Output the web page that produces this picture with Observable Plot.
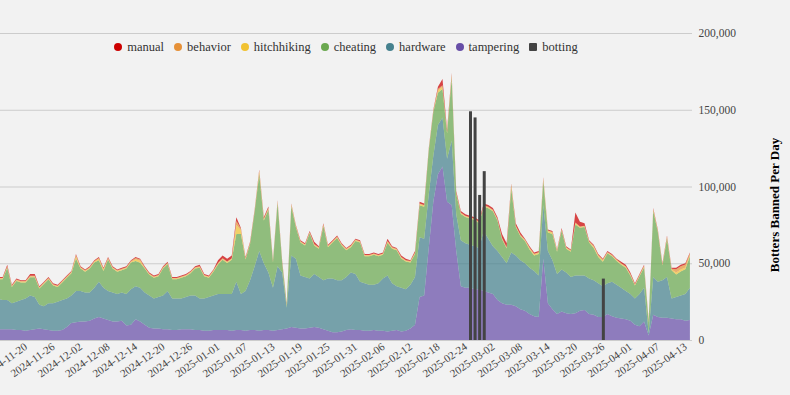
<!DOCTYPE html>
<html><head><meta charset="utf-8">
<script src="https://cdn.jsdelivr.net/npm/d3@7"></script>
<script src="https://cdn.jsdelivr.net/npm/@observablehq/plot@0.6"></script>
<style>
html,body{margin:0;padding:0;background:#f2f2f2;}
#wrap{position:relative;width:790px;height:395px;font-family:"Liberation Serif","Times New Roman",Times,"DejaVu Serif",serif;overflow:hidden;}
#wrap svg, #wrap svg text{font-family:"Liberation Serif","Times New Roman",Times,"DejaVu Serif",serif !important;}
#legend{position:absolute;left:0;top:40px;width:692px;text-align:center;font-size:12.5px;color:#333;white-space:nowrap;}
.item{display:inline-block;margin:0 5px;}
.sw{display:inline-block;width:8px;height:8px;border-radius:50%;margin-right:5px;vertical-align:0px;}
.sq{border-radius:1px;}
</style></head><body><div id="wrap"><div id="legend"></div></div>
<script>
// daily values in thousands, first day below
const startDate = "2024-11-14";
const seriesNames = ["tampering","hardware","cheating","hitchhiking","behavior","manual"];
const seriesColors = ["#674ea7","#45818e","#6aa84f","#f1c232","#e69138","#cc0000"];
const legendOrder = ["manual","behavior","hitchhiking","cheating","hardware","tampering"];

const tampering = [7,7,7,7,6.5,6.5,6,6.5,7,7.5,
7,6.5,6,6,6.5,8.5,11,11.5,12,12,
12.5,14,15,14,13,12,12,12.5,9.5,10,
13.5,12,10,8,7.5,7.5,7,7,6.5,6.5,
7,7,7,6.5,6.5,6,6,6.5,6.5,6.5,
6.5,6,6.5,6.5,6,6.5,6.5,6,6.5,6.5,
6,6.5,7,7.5,8.5,8,7.5,7.5,8,8.5,
8,7,6,5,5,5.5,6.5,7,6.5,6.5,
6,6,6.5,6,6,5.5,6,6.5,5.5,6,
7.5,10,28,29,60,90,108,113,90,88,
58,35,34,34,33,33,32,31,30,26,
24,23,23,22,20,19,17,15.5,15,53,
24,20,17,18.5,17.5,17,17.5,19,19.5,17,
16.5,15,15,17,15.5,14.5,14,13.5,12.5,10,
9,12,3,16.5,15,14.5,14.5,14,13.5,13.5,
12.5,13];
const hardware = [20,19,19,17,18.5,19.5,21,22.5,21,15.5,
15,17.5,18,19,19.5,18.5,18,20.5,20,19,
18.5,20,23,20,19,19,18,18.5,20.5,23,
21.5,22,21,21,19.5,20.5,22,25,20.5,20.5,
20,21,22,22.5,20.5,21,22,22.5,23.5,23.5,
23.5,24,31.5,23.5,26,32.5,41.5,52,43.5,37.5,
28,41.5,37,13.5,46.5,45,34.5,33.5,32,34.5,
33,32,34,35,34,33.5,34.5,37,36.5,31.5,
31,30,29.5,31,34,36.5,31,28.5,28.5,27,
28.5,31,39,37,35,30,32,32,28,42,
24,30,29,28,28,27,39,35,31,32,
30,27,34,33,32,31,30,29.5,27,35,
34,32,26,27.5,26.5,24,24.5,23,22.5,23,
22.5,22,20,20,22.5,21.5,20,18.5,17.5,17,
21,22,1.5,24.5,23,24.5,26.5,13,14.5,15.5,
17.5,21];
const cheating = [12.5,13.5,21.1,10.5,13.5,11.5,10.5,11.9,12.9,10.5,
14.5,15.5,11.5,9.5,11.5,13.5,14.5,21.1,14.5,13.5,
15.5,16.5,14,11,20.5,15.5,14.5,14.5,16.5,17.5,
16.4,16.4,15.5,13.5,13.5,13.5,17.5,17.5,12.5,12.5,
13.5,13.5,14.5,17.5,20.1,14.5,12.5,15.5,19.2,22.2,
20.2,22.2,31,39,20.5,23.5,35.5,50.2,27.8,40.8,
16.5,41.2,6.5,1.5,32.2,20.5,21.5,20.5,29.5,18.6,
18.5,35.2,20.5,23.5,27.5,22.5,17.5,16.5,21.5,25.5,
17.5,18.5,19.5,17.5,15.5,21.3,22.5,23.5,19.1,18.1,
14.5,15.1,20.8,20.8,28.5,28.5,21,18.5,16.6,40.7,
13.1,17.1,17.1,17.1,17.1,16.1,15.9,19.9,22.9,19.9,
11.6,9.6,41.9,18.6,15.6,14.5,12,10,14,15.6,
12,17,14.5,25.3,15.5,16.5,33.3,31.1,31.6,23.5,
21,17,16,19.5,16.5,15.5,15.1,15.1,12.1,8.5,
11.5,13.2,7,43,32.5,9.5,25.2,18.5,14.7,15.7,
16.1,20.5];
const hitchhiking = [.5,.5,.5,.5,.5,.5,.5,.5,.5,.5,
.5,.5,.5,.5,.5,.5,.5,1.5,.5,.5,
.5,.5,1,1,.5,.5,.5,.5,.5,.5,
1.2,1.2,.5,.5,.5,.5,.5,.5,.5,.5,
.5,.5,.5,.5,.5,.5,.5,.5,.6,.6,
.6,.6,6,2.5,.5,.5,.5,1.5,.8,.8,
.5,.8,.5,.5,.8,.5,.5,.5,.5,.5,
.5,.8,.5,.5,.5,.5,.5,.5,.5,.5,
.5,.5,.5,.5,.5,.8,.5,.5,.5,.5,
.5,.5,.8,.8,.5,.5,1.5,1.5,.5,1,
.5,.5,.5,.5,.5,.5,.5,.5,.5,.5,
.5,.5,1.5,.5,.5,.5,.8,.8,.8,1,
1,1,.5,.5,.5,.5,.8,.5,.5,.5,
.8,.8,.8,.5,.5,.5,.5,.5,.5,.5,
.5,.8,.5,.8,.5,.5,.6,.5,1.2,1.2,
1.1,.8];
const behavior = [.4,.4,.4,.4,.4,.4,.4,.4,.4,.4,
.4,.4,.4,.4,.4,.4,.4,.8,.4,.4,
.4,.4,.4,.4,.4,.4,.4,.4,.4,.4,
.8,.8,.4,.4,.4,.4,.4,.4,.4,.4,
.4,.4,.4,.4,.4,.4,.4,.4,.4,.4,
.4,.4,2.5,1,.4,.4,.4,.8,.4,.4,
.4,.4,.4,.4,.5,.4,.4,.4,.4,.4,
.4,.4,.4,.4,.4,.4,.4,.4,.4,.4,
.4,.4,.4,.4,.4,.4,.4,.4,.4,.4,
.4,.4,.4,.4,.4,.4,1,1,.4,1.5,
.4,.4,.4,.4,.4,.4,.4,.4,.4,.4,
.4,.4,1,.4,.4,.4,.4,.4,.4,.8,
.4,.4,.4,.4,.4,.4,.4,.4,.4,.4,
.6,.6,.6,.4,.4,.4,.4,.4,.4,.4,
.4,.4,.4,.6,.4,.4,.6,.4,2.2,2.2,
2,1.2];
const manual = [.6,.6,1,.6,.6,.6,.6,1.2,1.2,.6,
.6,.6,.6,.6,.6,.6,.6,.6,.6,.6,
.6,.6,.6,.6,.6,.6,.6,.6,.6,.6,
.6,.6,.6,.6,.6,.6,.6,.6,.6,.6,
.6,.6,.6,.6,1,.6,.6,.6,1.8,1.8,
1.8,1.8,2.5,.5,.6,.6,.6,.5,1,1,
.6,.6,.6,.6,.5,.6,.6,.6,.6,1.5,
.6,.6,.6,.6,.6,.6,.6,.6,.6,.6,
.6,.6,.6,.6,.6,1.5,.6,.6,1,1,
.6,1,1,1,.6,.6,1.5,4,1.5,.8,
1,1,1,1,1,1,1.2,1.2,1.2,1.2,
2.5,2.5,.6,1.5,1.5,.6,.8,.8,.8,.6,
.6,.6,.6,.8,.6,.6,6.5,3,1.5,.6,
.6,.6,.6,.6,.6,.6,1,1,1,.6,
.6,.6,.6,.6,.6,.6,.6,.6,.9,.9,
.8,.5];
const bottingDates = ["2025-02-25","2025-02-26","2025-02-27","2025-02-28","2025-03-26"];
const bottingValues = [149,145,94.5,110,40];
const bottingColor = "#434343";
const yTicks = [0,50,100,150,200];
const xTickLabels = ["2024-11-20","2024-11-26","2024-12-02","2024-12-08","2024-12-14","2024-12-20","2024-12-26",
"2025-01-01","2025-01-07","2025-01-13","2025-01-19","2025-01-25","2025-01-31","2025-02-06","2025-02-12",
"2025-02-18","2025-02-24","2025-03-02","2025-03-08","2025-03-14","2025-03-20","2025-03-26","2025-04-01",
"2025-04-07","2025-04-13"];
const yLabel = "Botters Banned Per Day";

const seriesValues = [tampering, hardware, cheating, hitchhiking, behavior, manual];
const d0 = new Date(startDate + "T00:00Z");
const days = d3.utcDay.range(d0, d3.utcDay.offset(d0, tampering.length));
const rows = [];
seriesNames.forEach((s, i) => seriesValues[i].forEach((v, j) => rows.push({date: days[j], series: s, value: v})));
const bars = bottingDates.map((d, i) => ({date: new Date(d + "T00:00Z"), value: bottingValues[i]}));
const serif = "'Liberation Serif', 'Times New Roman', Times, 'DejaVu Serif', serif";

const chart = Plot.plot({
  width: 790, height: 395,
  marginLeft: 0, marginRight: 98, marginTop: 33, marginBottom: 55,
  style: {background: "transparent", fontFamily: serif, color: "#444"},
  x: {type: "utc", domain: [new Date("2024-11-14T10:00Z"), new Date("2025-04-14T11:00Z")]},
  y: {domain: [0, 200]},
  color: {domain: seriesNames, range: seriesColors},
  marks: [
    Plot.gridY(yTicks, {stroke: "#cccccc", strokeOpacity: 1}),
    Plot.areaY(rows, {x: "date", y: "value", fill: "series", fillOpacity: 0.72}),
    Plot.ruleX(bars, {x: "date", y1: 0, y2: "value", stroke: bottingColor, strokeWidth: 3}),
    Plot.axisY(yTicks, {anchor: "right", tickSize: 0, tickPadding: 6, tickFormat: d => d3.format(",")(d * 1000), fontSize: 11.5, label: null, fill: "#444"}),
    Plot.axisX(xTickLabels.map(d => new Date(d + "T00:00Z")), {anchor: "bottom", tickSize: 0, tickPadding: 5, tickRotate: -35, tickFormat: d3.utcFormat("%Y-%m-%d"), fontSize: 11, label: null, fill: "#444"}),
    Plot.text([yLabel], {frameAnchor: "right", dx: 82, dy: 18, rotate: -90, textAnchor: "middle", fontWeight: "bold", fontSize: 13, fill: "#000"})
  ]
});
document.getElementById("wrap").prepend(chart);

const legend = document.getElementById("legend");
legendOrder.forEach(name => {
  const c = seriesColors[seriesNames.indexOf(name)];
  const it = document.createElement("span");
  it.className = "item";
  it.innerHTML = `<span class="sw" style="background:${c}"></span>${name}`;
  legend.appendChild(it);
});
const it = document.createElement("span");
it.className = "item";
it.innerHTML = `<span class="sw sq" style="background:${bottingColor}"></span>botting`;
legend.appendChild(it);
</script></body></html>
